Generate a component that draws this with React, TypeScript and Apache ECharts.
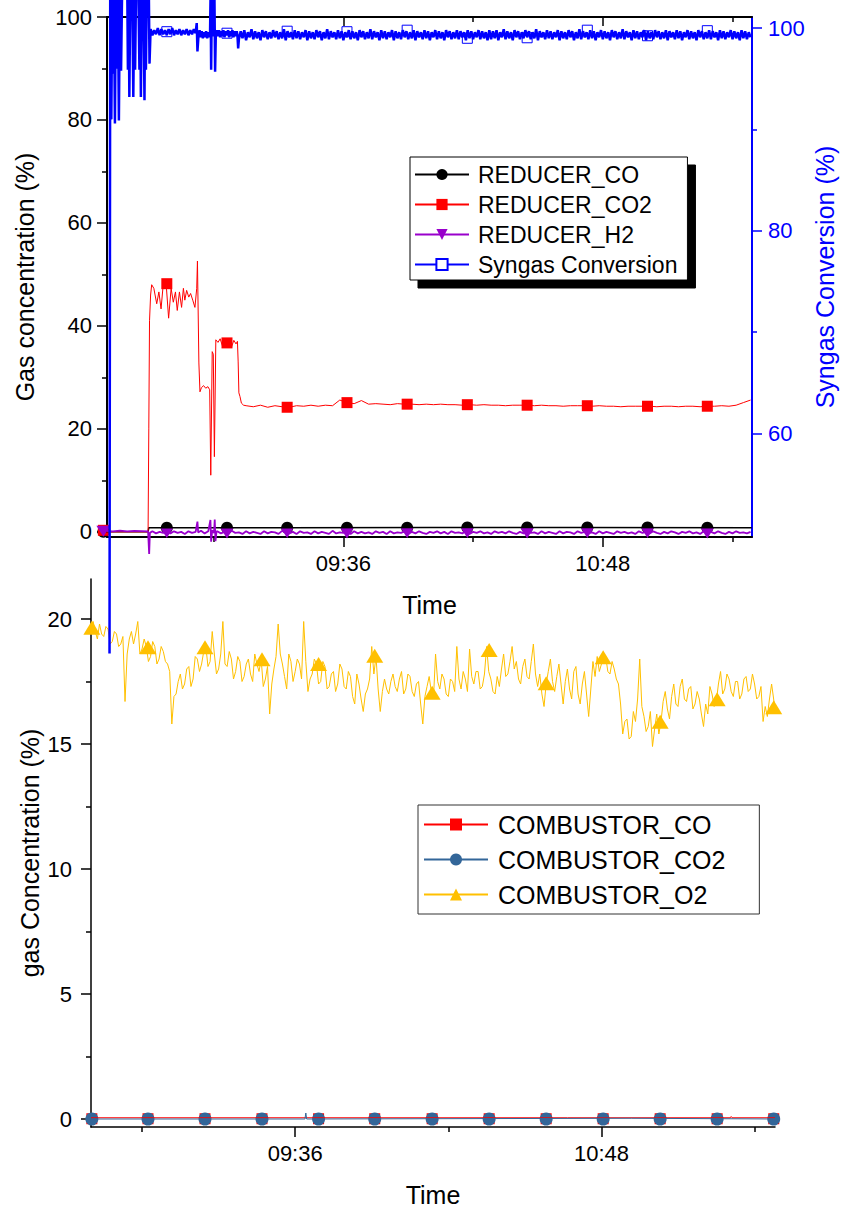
import React, { useEffect, useRef } from "react";
import * as echarts from "echarts";

const FONT = "'Liberation Sans', Arial, Helvetica, sans-serif";

// ---------------- Top panel (reducer) ----------------
const topXMin = 510.4;
const topXMax = 689.4;
const topXMajor = [576, 648];
const topXMinor = [540, 612, 684];
const leftYMajor = [0, 20, 40, 60, 80, 100];
const leftYMinor = [10, 30, 50, 70, 90];
const rightYMajor = [60, 80, 100];
const rightYMinor = [70, 90];

const reducerCOLine = [
  [508.5, 0.0], [521.8, 0.0], [522.0, 0.8], [560, 0.8], [600, 0.85], [640, 0.85], [689.3, 0.8],
];

const reducerCO2Early = [
  [508.5, 0.0], [521.8, 0.0], [522.0, 20.0], [522.2, 41.0], [522.5, 46.0], [522.8, 48.0], [523.4, 47.3],
  [524.2, 44.3], [524.8, 46.6], [525.4, 43.3], [526.0, 48.0], [526.8, 48.3], [527.5, 41.5], [528.2, 47.3],
  [528.8, 44.6], [529.4, 46.6], [529.9, 43.0], [530.5, 46.6], [531.1, 43.6], [531.6, 47.3], [532.0, 45.0],
  [532.5, 46.9], [533.1, 45.6], [533.6, 46.3], [534.2, 45.0], [534.8, 43.6], [535.3, 47.3], [535.5, 52.6],
  [535.9, 32.8], [536.2, 27.2], [536.6, 28.0], [537.2, 28.4], [537.8, 27.9], [538.4, 28.2], [538.9, 27.6],
  [539.2, 11.0], [539.6, 35.0], [539.9, 34.5], [540.2, 14.6], [540.6, 37.3], [541.2, 36.8], [541.8, 37.5],
  [542.4, 36.2], [543.0, 37.4], [543.7, 36.7], [544.4, 37.3], [545.0, 36.0], [545.6, 37.2], [546.2, 36.5],
  [546.6, 37.0], [546.8, 33.0], [547.0, 27.0], [547.3, 26.3], [547.7, 25.0], [548.3, 24.6],
];
const reducerCO2TailStart = 549;
const reducerCO2TailStep = 2;
const reducerCO2Tail = [
  24.5, 24.3, 24.6, 24.2, 24.5, 24.3, 24.2, 24.5, 24.4, 24.6, 24.4, 24.6, 24.5, 25.6, 25.1, 24.9, 25.5,
  24.8, 24.9, 24.8, 24.7, 24.9, 24.8, 24.8, 24.7, 24.8, 24.7, 24.8, 24.7, 24.7, 24.6, 24.7, 24.6, 24.7,
  24.6, 24.6, 24.5, 24.6, 24.6, 24.6, 24.5, 24.6, 24.5, 24.5, 24.4, 24.5, 24.5, 24.5, 24.4, 24.5, 24.4,
  24.4, 24.3, 24.4, 24.4, 24.4, 24.4, 24.3, 24.4, 24.4, 24.3, 24.4, 24.4, 24.3, 24.4, 24.4, 24.5, 24.4,
  24.6, 25.1, 25.6,
];

const reducerH2Early = [
  [508.5, 0.3], [510, 0.2], [512, 0.1], [514, 0.25], [516, 0.1], [518, 0.2], [520, 0.15], [521.8, 0.1],
  [522.1, -4.3], [522.3, -0.2], [523, 0.1], [524, -0.3], [525, 0.0], [526, -0.2], [527, 0.2], [528, -0.3],
  [529, 0.1], [530, -0.2], [531, 0.0], [532, -0.4], [533, 0.1], [534, -0.2], [535, 0.0], [535.5, 2.0],
  [535.7, -0.1], [536.5, 0.2], [537.5, -0.3], [538.5, 0.1], [539.1, 2.3], [539.3, -1.9], [539.6, 0.3],
  [540.1, -0.2], [540.3, 2.4], [540.5, -1.8], [540.8, 0.1],
];
const reducerH2TailStart = 541;
const reducerH2Tail = [
  0.1, -0.3, 0.0, -0.4, 0.2, -0.2, -0.1, -0.4, 0.1, -0.3, 0.0, -0.2, -0.4, 0.1, -0.3, 0.0, -0.1, -0.4, 0.2, -0.2,
  -0.3, 0.0, -0.4, 0.1, -0.2, -0.1, -0.4, 0.1, -0.3, 0.0, -0.2, -0.4, 0.2, -0.3, -0.1, -0.2, 0.0, -0.4, 0.1, -0.3,
  0.0, -0.3, -0.1, -0.4, 0.1, -0.2, 0.0, -0.4, 0.1, -0.3, -0.1, -0.2, 0.1, -0.4, 0.0, -0.3, 0.1, -0.2, -0.4, 0.0,
  -0.2, 0.1, -0.3, 0.0, -0.4, 0.1, -0.2, -0.1, -0.3, 0.1, -0.4, 0.0, -0.2, 0.1, -0.3, -0.1, -0.4, 0.1, -0.2, 0.0,
  -0.3, 0.1, -0.2, -0.4, 0.0, -0.3, 0.1, -0.2, -0.1, -0.4, 0.1, -0.3, 0.0, -0.2, -0.4, 0.1, -0.3, 0.0, -0.1, -0.4,
  0.1, -0.2, 0.0, -0.3, -0.1, -0.4, 0.1, -0.3, 0.0, -0.2, -0.4, 0.1, -0.2, 0.0, -0.3, -0.1, -0.4, 0.1, -0.2, 0.0,
  -0.3, 0.1, -0.2, -0.4, 0.0, -0.3, 0.1, -0.1, -0.4, 0.0, -0.2, 0.1, -0.3, -0.1, -0.4, 0.1, -0.2, 0.0, -0.3, 0.1,
  -0.2, -0.4, 0.0, -0.3, 0.1, -0.2, -0.1, -0.3, 0.0,
];

const syngasEarly = [
  [511.1, 38.3], [511.3, 106], [511.6, 91.0], [511.9, 105], [512.1, 95.5], [512.3, 104], [512.6, 90.6],
  [512.9, 105], [513.1, 96.0], [513.4, 104], [513.7, 90.9], [514.0, 105], [514.3, 95.8], [514.6, 104],
  [515.4, 104.5], [516.0, 105], [516.2, 95.9], [516.4, 104], [516.6, 93.2], [516.9, 105], [517.4, 104],
  [517.7, 93.2], [518.0, 104], [518.2, 95.9], [518.5, 105], [519.1, 104], [519.4, 95.9], [519.6, 104],
  [519.8, 93.2], [520.1, 105], [520.5, 104], [520.8, 92.9], [521.0, 104], [521.2, 95.9], [521.5, 105],
  [522.0, 104], [522.2, 96.5],
];
const syngasSettleStart = 522.5;
const syngasSettle = [
  99.9, 99.3, 99.8, 99.4, 100.0, 99.3, 99.9, 99.4, 99.8, 99.3, 99.9, 99.4, 100.0, 99.3, 99.8, 99.4,
  99.9, 99.3, 99.8, 99.4, 99.9, 99.3, 99.8, 99.4, 99.9, 99.5,
];
const syngasEvents = [
  [535.3, 100.5], [535.5, 97.7], [535.8, 99.3], [536.1, 99.8], [536.4, 99.1], [536.7, 99.7], [537.0, 99.0],
  [537.3, 99.6], [537.6, 99.1], [537.9, 99.7], [538.2, 99.0], [538.5, 99.6], [538.8, 99.1], [539.0, 99.5],
  [539.15, 103.5], [539.3, 95.9], [539.5, 103], [539.7, 99.2], [540.0, 99.6], [540.2, 103.8], [540.4, 95.7],
  [540.6, 99.4], [540.9, 99.8], [541.2, 99.2], [541.5, 99.8], [541.8, 99.1], [542.1, 99.7], [542.4, 99.2],
  [542.7, 99.8], [543.0, 99.1], [543.3, 99.7], [543.7, 99.3], [544.0, 99.8], [544.3, 99.1], [544.6, 99.7],
  [544.9, 99.2], [545.2, 99.8], [545.5, 99.1], [545.8, 99.7], [546.1, 99.2], [546.4, 99.7], [546.6, 99.3],
  [546.8, 98.0],
];
const syngasTailStart = 547;
const syngasTailStep = 0.5;
const syngasTail = [
  98.9, 99.7, 99.0, 99.8, 98.8, 99.6, 99.1, 99.9, 98.9, 99.7, 99.0, 99.6, 98.8, 99.8, 99.1, 99.7, 98.9, 99.6, 99.0, 99.8,
  99.1, 99.7, 98.9, 99.6, 99.0, 99.9, 98.8, 99.7, 99.1, 99.6, 98.9, 99.8, 99.0, 99.7, 98.9, 99.6, 99.1, 99.8, 98.8, 99.7,
  99.0, 99.6, 98.9, 99.8, 99.1, 99.7, 98.8, 99.6, 99.0, 99.9, 98.9, 99.7, 99.1, 99.6, 98.9, 99.8, 99.0, 99.7, 98.8, 99.6,
  99.1, 99.8, 98.9, 99.7, 99.0, 99.6, 98.8, 99.8, 99.1, 99.7, 98.9, 99.6, 99.0, 99.9, 98.9, 99.7, 99.1, 99.6, 98.8, 99.8,
  99.0, 99.7, 98.9, 99.6, 99.1, 99.8, 98.8, 99.7, 99.0, 99.6, 98.9, 99.8, 99.1, 99.7, 98.9, 99.6, 99.0, 99.8, 98.8, 99.7,
  99.1, 99.6, 98.9, 99.8, 99.0, 99.7, 98.8, 99.6, 99.1, 99.8, 98.9, 99.7, 99.0, 99.6, 98.8, 99.8, 99.1, 99.7, 98.9, 99.6,
  99.0, 99.8, 98.9, 99.7, 99.1, 99.6, 98.8, 99.8, 99.0, 99.7, 98.9, 99.6, 99.1, 99.8, 98.9, 99.7, 99.0, 99.6, 98.8, 99.8,
  98.9, 99.7, 99.0, 99.8, 98.8, 99.6, 99.1, 99.9, 98.9, 99.7, 99.0, 99.6, 98.8, 99.8, 99.1, 99.7, 98.9, 99.6, 99.0, 99.8,
  99.1, 99.7, 98.9, 99.6, 99.0, 99.9, 98.8, 99.7, 99.1, 99.6, 98.9, 99.8, 99.0, 99.7, 98.9, 99.6, 99.1, 99.8, 98.8, 99.7,
  99.0, 99.6, 98.9, 99.8, 99.1, 99.7, 98.8, 99.6, 99.0, 99.9, 98.9, 99.7, 99.1, 99.6, 98.9, 99.8, 99.0, 99.7, 98.8, 99.6,
  99.1, 99.8, 98.9, 99.7, 99.0, 99.6, 98.8, 99.8, 99.1, 99.7, 98.9, 99.6, 99.0, 99.9, 98.9, 99.7, 99.1, 99.6, 98.8, 99.8,
  99.0, 99.7, 98.9, 99.6, 99.1, 99.8, 98.8, 99.7, 99.0, 99.6, 98.9, 99.8, 99.1, 99.7, 98.9, 99.6, 99.0, 99.8, 98.8, 99.7,
  99.1, 99.6, 98.9, 99.8, 99.0, 99.7, 98.8, 99.6, 99.1, 99.8, 98.9, 99.7, 99.0, 99.6, 98.8, 99.8, 99.1, 99.7, 98.9, 99.6,
  99.0, 99.8, 98.9, 99.7, 99.1, 99.6, 98.8, 99.8, 99.0, 99.7, 98.9, 99.6, 99.1, 99.8, 98.9, 99.7, 99.0, 99.6, 98.8, 99.8,
  99.0, 99.7, 98.9, 99.6, 99.1,
];

const topMarkerTimes = [509.4, 527.0, 543.7, 560.4, 577.0, 593.7, 610.4, 627.0, 643.7, 660.4, 677.0];
const reducerCOMarkers = [0.0, 0.8, 0.8, 0.8, 0.8, 0.8, 0.85, 0.85, 0.85, 0.85, 0.8];
const reducerCO2Markers = [0.3, 48.2, 36.7, 24.2, 25.1, 24.8, 24.7, 24.6, 24.5, 24.4, 24.4];
const reducerH2Markers = [0.1, -0.15, -0.2, -0.15, -0.2, -0.15, -0.15, -0.2, -0.15, -0.15, -0.2];
const syngasMarkerTimes = [527.0, 543.7, 560.4, 577.0, 593.7, 610.4, 627.0, 643.7, 660.4, 677.0];
const syngasMarkers = [99.65, 99.5, 99.7, 99.65, 99.8, 99.0, 99.05, 99.8, 99.25, 99.75];

// ---------------- Bottom panel (combustor) ----------------
const botXMin = 528;
const botXMax = 688.8;
const botXMajor = [576, 648];
const botXMinor = [540, 612, 684];
const botYMajor = [0, 5, 10, 15, 20];
const botYMinor = [2.5, 7.5, 12.5, 17.5];

const combCOLine = [[528, 0.05], [640, 0.05], [678.3, 0.05], [678.5, 0.1], [678.7, 0.05], [688.8, 0.05]];
const combCO2Line = [[528, 0.0], [578.3, 0.0], [578.5, 0.24], [578.7, 0.0], [655, 0.03], [688.8, 0.0]];

const combO2Start = 528;
const combO2Step = 0.5;
const combO2 = [
  19.7, 19.9, 19.5, 19.2, 19.8, 19.4, 19.3, 19.7, 19.6, 19.0, 19.1, 19.5, 19.4, 18.9, 19.0, 19.3, 16.7, 18.6, 19.2, 19.5,
  19.0, 19.4, 19.9, 18.6, 18.8, 19.2, 18.9, 18.3, 18.5, 19.1, 18.9, 18.2, 18.4, 18.9, 18.7, 18.3, 18.2, 17.9, 15.8, 16.9,
  17.0, 17.5, 17.8, 17.2, 17.4, 18.0, 18.1, 17.3, 17.6, 18.5, 18.4, 17.9, 18.2, 18.7, 18.9, 18.1, 18.3, 19.5, 18.6, 17.8,
  18.0, 18.6, 19.9, 18.2, 18.1, 18.7, 18.4, 17.6, 17.9, 18.5, 18.3, 17.5, 17.7, 18.2, 18.4, 17.8, 17.5, 18.6, 18.2, 17.9,
  18.4, 17.3, 17.6, 18.1, 16.2, 17.4, 18.0, 18.5, 19.8, 18.6, 18.2, 17.7, 17.2, 18.6, 18.3, 17.5, 17.9, 18.4, 18.2, 17.6,
  19.9, 18.3, 17.1, 17.6, 17.8, 18.4, 18.2, 17.4, 17.5, 18.3, 18.1, 17.2, 17.3, 17.8, 17.9, 17.1, 17.4, 18.2, 18.0, 17.3,
  17.2, 17.9, 17.7, 16.9, 16.6, 17.8, 17.4, 16.8, 16.3, 17.0, 17.2, 17.6, 18.9, 17.8, 18.5, 17.2, 16.3, 17.1, 17.6, 17.2,
  17.0, 17.5, 17.8, 17.3, 17.1, 17.6, 17.9, 17.0, 17.2, 17.8, 17.7, 17.1, 16.9, 17.4, 17.5, 16.6, 15.8, 16.9, 17.3, 17.7,
  17.1, 16.8, 18.6, 17.5, 17.2, 17.8, 17.6, 17.0, 16.9, 17.6, 17.5, 17.1, 18.9, 17.6, 17.2, 17.9, 17.6, 17.1, 18.8, 17.7,
  17.4, 17.9, 17.9, 17.2, 17.3, 17.8, 18.9, 17.9, 17.6, 17.1, 17.0, 17.7, 17.3, 18.0, 18.6, 17.7, 17.8, 18.3, 18.9, 18.0,
  18.3, 17.6, 17.4, 18.1, 18.4, 17.7, 17.6, 18.3, 19.0, 17.8, 17.3, 17.8, 17.0, 16.5, 17.4, 17.9, 18.4, 17.5, 17.1, 17.7,
  18.2, 17.4, 16.6, 17.5, 18.0, 17.2, 16.8, 17.9, 18.1, 17.0, 16.6, 17.4, 17.9, 17.0, 16.1, 17.2, 18.3, 17.7, 18.5, 17.9,
  18.2, 18.6, 18.5, 17.9, 17.8, 18.3, 18.0, 17.6, 17.4, 16.6, 15.4, 15.9, 16.0, 15.2, 15.3, 16.3, 15.9, 16.8, 18.4, 16.5,
  16.1, 15.5, 15.7, 16.3, 14.9, 15.6, 16.2, 15.4, 15.9, 16.7, 17.1, 16.4, 16.0, 16.9, 17.4, 16.6, 16.5, 17.3, 17.6, 16.8,
  16.7, 17.2, 17.3, 16.4, 16.6, 17.1, 16.8, 16.2, 15.7, 16.6, 16.2, 17.3, 17.0, 16.5, 16.7, 17.4, 17.9, 17.0, 17.2, 17.8,
  17.6, 17.1, 16.9, 17.5, 17.5, 16.8, 17.0, 17.6, 17.7, 17.1, 17.2, 17.8, 17.4, 16.8, 16.9, 17.3, 15.9, 16.5, 16.1, 16.8,
  17.4,
];
const combO2End = [688.8, 16.4];

const botMarkerTimes = [528.2, 541.4, 554.8, 568.2, 581.5, 594.7, 608.2, 621.6, 635.0, 648.4, 661.8, 675.2, 688.5];
const combCOMarkers = [0.01, 0.01, 0.01, 0.01, 0.01, 0.01, 0.01, 0.01, 0.01, 0.01, 0.01, 0.01, 0.01];
const combCO2Markers = [0, 0, 0, 0, 0, 0, 0, 0, 0, 0, 0, 0, 0];
const combO2Markers = [19.65, 18.87, 18.87, 18.39, 18.2, 18.53, 17.05, 18.76, 17.43, 18.47, 15.89, 16.79, 16.47];

// ---------------- helpers ----------------
const regular = (start: number, step: number, vals: number[]) => vals.map((v, i) => [start + i * step, v]);
const pairs = (ts: number[], vs: number[]) => ts.map((t, i) => [t, vs[i]]);
const fmtTime = (v: number) => {
  const h = Math.floor(v / 60);
  const m = Math.round(v - h * 60);
  return String(h).padStart(2, "0") + ":" + String(m).padStart(2, "0");
};

const BLACK = "#000000";
const RED = "#ff0000";
const PURPLE = "#9900cc";
const BLUE = "#0000ff";
const STEEL = "#336699";
const AMBER = "#ffc000";
const DOWN_TRI = "path://M0,0L10,0L5,9Z";

function xAxisPair(gridIndex: number, min: number, max: number, major: number[], minor: number[], lw: number) {
  return [
    {
      gridIndex, type: "value", position: "bottom", min, max,
      axisLine: { show: true, onZero: false, lineStyle: { color: BLACK, width: lw } },
      axisTick: { show: true, customValues: major, length: 10, lineStyle: { color: BLACK, width: 1.5 } },
      axisLabel: { show: true, customValues: major, formatter: fmtTime, color: BLACK, fontSize: 22, fontFamily: FONT, margin: 15 },
      splitLine: { show: false },
      name: "Time",
      nameLocation: "middle", nameGap: 55,
      nameTextStyle: { color: BLACK, fontSize: 25, fontFamily: FONT },
    },
    {
      gridIndex, type: "value", position: "bottom", min, max,
      axisLine: { show: false, onZero: false },
      axisTick: { show: true, customValues: minor, length: 5, lineStyle: { color: BLACK, width: 1.5 } },
      axisLabel: { show: false },
      splitLine: { show: false },
    },
  ];
}

function yAxisPair(gridIndex: number, position: string, min: number, max: number, major: number[], minor: number[], color: string, lw: number, name: string, nameGap: number, margin: number) {
  return [
    {
      gridIndex, type: "value", position, min, max,
      axisLine: { show: true, onZero: false, lineStyle: { color, width: lw } },
      axisTick: { show: true, customValues: major, length: 10, lineStyle: { color, width: 1.5 } },
      axisLabel: { show: true, customValues: major, color, fontSize: 22, fontFamily: FONT, margin },
      splitLine: { show: false },
      name, nameLocation: "middle", nameGap, nameMoveOverlap: false,
      nameTextStyle: { color, fontSize: 25, fontFamily: FONT },
    },
    {
      gridIndex, type: "value", position, min, max,
      axisLine: { show: false, onZero: false },
      axisTick: { show: true, customValues: minor, length: 5, lineStyle: { color, width: 1.5 } },
      axisLabel: { show: false },
      splitLine: { show: false },
    },
  ];
}

export default function App() {
  const ref = useRef<HTMLDivElement>(null);

  useEffect(() => {
    if (!ref.current) return;
    const chart = echarts.init(ref.current, undefined, { renderer: "svg" });

    const xAxes: any[] = [
      ...xAxisPair(0, topXMin, topXMax, topXMajor, topXMinor, 2),
      {
        gridIndex: 0, type: "value", position: "top", min: topXMin, max: topXMax,
        axisLine: { show: true, onZero: false, lineStyle: { color: BLACK, width: 2 } },
        axisTick: { show: true, inside: true, customValues: topXMajor, length: 9, lineStyle: { color: BLACK, width: 1.5 } },
        axisLabel: { show: false }, splitLine: { show: false },
      },
      {
        gridIndex: 0, type: "value", position: "top", min: topXMin, max: topXMax,
        axisLine: { show: false, onZero: false },
        axisTick: { show: true, inside: true, customValues: topXMinor, length: 5, lineStyle: { color: BLACK, width: 1.5 } },
        axisLabel: { show: false }, splitLine: { show: false },
      },
      ...xAxisPair(1, botXMin, botXMax, botXMajor, botXMinor, 1.5),
    ];
    const yAxes: any[] = [
      ...yAxisPair(0, "left", -1, 100, leftYMajor, leftYMinor, BLACK, 2, "Gas concentration (%)", 70, 15),
      ...yAxisPair(0, "right", 49.8, 101.1, rightYMajor, rightYMinor, BLUE, 2, "Syngas Conversion (%)", 60, 16),
      ...yAxisPair(1, "left", -0.32, 21.6, botYMajor, botYMinor, BLACK, 1.5, "gas Concentration (%)", 49, 19),
    ];

    const lineS = (name: string, color: string, symbol: string, data: any[], xi: number, yi: number, width = 1) => ({
      name, type: "line", xAxisIndex: xi, yAxisIndex: yi, data, symbol, showSymbol: false,
      clip: false, lineStyle: { color, width }, itemStyle: { color }, emphasis: { disabled: true },
    });
    const markS = (name: string, color: string, symbol: string, size: any, data: any[], xi: number, yi: number, extra: any = {}) => ({
      name, type: "scatter", xAxisIndex: xi, yAxisIndex: yi, data, symbol, symbolSize: size,
      clip: false, itemStyle: { color, opacity: 1, ...extra }, emphasis: { disabled: true },
    });

    const option: any = {
      animation: false,
      backgroundColor: "#ffffff",
      textStyle: { fontFamily: FONT },
      grid: [
        { left: 107, top: 17, width: 645, height: 520, containLabel: false, outerBoundsMode: "none" },
        { left: 91, top: 579, width: 684, height: 548, containLabel: false, outerBoundsMode: "none" },
      ],
      xAxis: xAxes,
      yAxis: yAxes,
      legend: [
        {
          data: ["REDUCER_CO", "REDUCER_CO2", "REDUCER_H2", "Syngas Conversion"],
          orient: "vertical", left: 410, top: 157,
          itemWidth: 54, itemHeight: 14, itemGap: 7,
          padding: [6, 10, 4, 4],
          backgroundColor: "#ffffff", borderColor: BLACK, borderWidth: 1,
          shadowColor: BLACK, shadowBlur: 0, shadowOffsetX: 8, shadowOffsetY: 8,
          selectedMode: false,
          textStyle: { color: BLACK, fontSize: 23, fontFamily: FONT, padding: [0, 0, 0, 4] },
        },
        {
          data: ["COMBUSTOR_CO", "COMBUSTOR_CO2", "COMBUSTOR_O2"],
          orient: "vertical", left: 418, top: 805,
          itemWidth: 64, itemHeight: 15, itemGap: 10,
          padding: [7, 34, 7, 5],
          backgroundColor: "#ffffff", borderColor: "#333333", borderWidth: 1,
          selectedMode: false,
          textStyle: { color: BLACK, fontSize: 25, fontFamily: FONT, padding: [0, 0, 0, 5] },
        },
      ],
      series: [
        // bottom panel
        lineS("COMBUSTOR_CO", RED, "rect", combCOLine, 4, 4),
        lineS("COMBUSTOR_CO2", STEEL, "circle", combCO2Line, 4, 4),
        lineS("COMBUSTOR_O2", AMBER, "triangle", [...regular(combO2Start, combO2Step, combO2), combO2End], 4, 4),
        markS("COMBUSTOR_CO", RED, "rect", 11, pairs(botMarkerTimes, combCOMarkers), 4, 4),
        markS("COMBUSTOR_CO2", STEEL, "circle", 13, pairs(botMarkerTimes, combCO2Markers), 4, 4),
        markS("COMBUSTOR_O2", AMBER, "triangle", [17, 14], pairs(botMarkerTimes, combO2Markers), 4, 4),
        // top panel
        lineS("REDUCER_CO", BLACK, "circle", reducerCOLine, 0, 0, 1.5),
        lineS("REDUCER_CO2", RED, "rect", [...reducerCO2Early, ...regular(reducerCO2TailStart, reducerCO2TailStep, reducerCO2Tail)], 0, 0),
        lineS("REDUCER_H2", PURPLE, DOWN_TRI, [...reducerH2Early, ...regular(reducerH2TailStart, 1, reducerH2Tail)], 0, 0, 1.8),
        markS("REDUCER_CO", BLACK, "circle", 12, pairs(topMarkerTimes, reducerCOMarkers), 0, 0),
        markS("REDUCER_CO2", RED, "rect", 11, pairs(topMarkerTimes, reducerCO2Markers), 0, 0),
        markS("REDUCER_H2", PURPLE, DOWN_TRI, [14, 11], pairs(topMarkerTimes, reducerH2Markers), 0, 0),
        lineS("Syngas Conversion", BLUE, "emptyRect",
          [...syngasEarly, ...regular(syngasSettleStart, 0.5, syngasSettle), ...syngasEvents, ...regular(syngasTailStart, syngasTailStep, syngasTail)],
          0, 2, 2.5),
        markS("Syngas Conversion", "#ffffff", "rect", 10, pairs(syngasMarkerTimes, syngasMarkers), 0, 2, { borderColor: BLUE, borderWidth: 1 }),
      ],
    };

    chart.setOption(option);
    return () => chart.dispose();
  }, []);

  return (
    <div
      ref={ref}
      style={{ position: "absolute", left: 0, top: 0, width: 850, height: 1208, background: "#fff" }}
    />
  );
}
